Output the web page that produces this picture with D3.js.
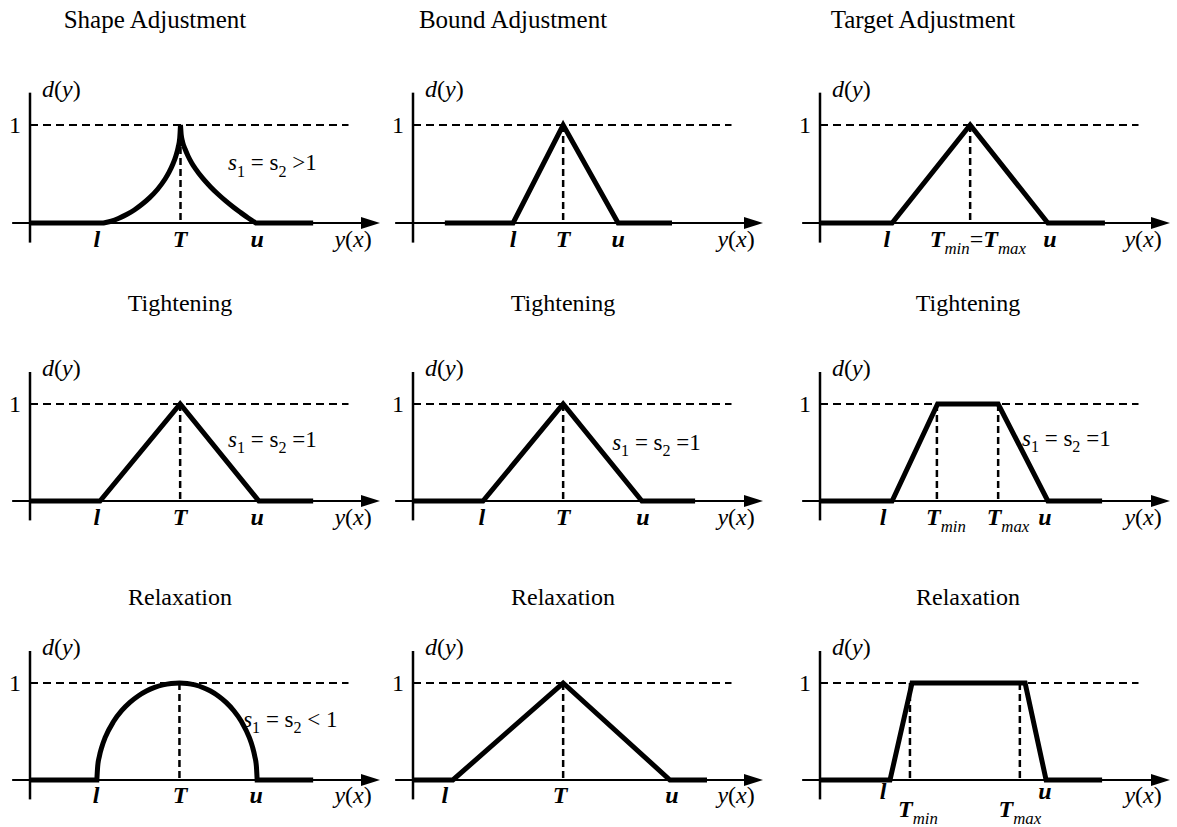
<!DOCTYPE html>
<html><head><meta charset="utf-8">
<script src="https://cdn.jsdelivr.net/npm/d3@7"></script>
<style>
body{margin:0;background:#fff}
svg{display:block}
text{font-family:"Liberation Serif","Times New Roman",serif;fill:#000}
</style>
</head><body>
<svg id="c" width="1177" height="827"></svg>
<script>
// ---------- data ----------
const colTitles = ["Shape Adjustment", "Bound Adjustment", "Target Adjustment"];
const rowTitles = ["Tightening", "Relaxation"];

// desirability curves, x in axis units (0 = d-axis, 10 = arrow tip), d in [0,1]
const p1Lines = [
  [[0,0],[2.1,0]],
  [[2.1,0],[2.32,0.018],[2.54,0.048],[2.76,0.086],[2.98,0.133],[3.2,0.191],[3.42,0.259],[3.64,0.342],[3.86,0.449],[3.97,0.516],[4.08,0.599],[4.168,0.684],[4.234,0.774],[4.278,0.867],[4.3,1]],
  [[4.3,1],[4.32,0.9],[4.36,0.827],[4.43,0.755],[4.515,0.684],[4.62,0.613],[4.73,0.553],[4.945,0.452],[5.16,0.368],[5.375,0.293],[5.59,0.225],[5.805,0.163],[6.02,0.106],[6.235,0.051],[6.45,0]],
  [[6.45,0],[8.09,0]]
];
const p2Lines = [[[0.91,0],[2.86,0],[4.29,1],[5.86,0],[7.4,0]]];
const p3Lines = [[[0,0],[2.06,0],[4.29,1],[6.51,0],[8.14,0]]];
const p4Lines = [[[0,0],[2.0,0],[4.29,1],[6.54,0],[8.09,0]]];
const p5Lines = [[[0,0],[2.0,0],[4.29,1],[6.54,0],[8.06,0]]];
const p6Lines = [[[0,0],[2.06,0],[3.36,1],[5.09,1],[6.51,0],[8.06,0]]];
const p7Lines = [
  [[0,0],[1.91,0]],
  [[1.91,0],[1.934,0.141],[1.981,0.243],[2.052,0.341],[2.146,0.436],[2.382,0.6],[2.618,0.714],[2.854,0.8],[3.09,0.866],[3.326,0.917],[3.562,0.954],[3.798,0.98],[4.034,0.995],[4.27,1],
   [4.492,0.995],[4.714,0.98],[4.936,0.954],[5.158,0.917],[5.38,0.866],[5.602,0.8],[5.824,0.714],[6.046,0.6],[6.268,0.436],[6.357,0.341],[6.423,0.243],[6.468,0.141],[6.49,0]],
  [[6.49,0],[8.09,0]]
];
const p8Lines = [[[0,0],[1.14,0],[4.29,1],[7.34,0],[8.4,0]]];
const p9Lines = [[[0,0],[2.0,0],[2.63,1],[5.86,1],[6.46,0],[8.06,0]]];
const panelLines = [p1Lines, p2Lines, p3Lines, p4Lines, p5Lines, p6Lines, p7Lines, p8Lines, p9Lines];
const panelCurved = [true, false, false, false, false, false, true, false, false];

// dashed drop lines (x positions)
const dropLines = [[4.3],[4.29],[4.29],[4.29],[4.29],[3.34,5.09],[4.27],[4.29],[2.57,5.71]];

// tick labels: [label key, x, extra dy]
const tickLabels = [
  [["l",1.91,0],["T",4.29,0],["u",6.49,0]],
  [["l",2.86,0],["T",4.29,0],["u",5.86,0]],
  [["l",1.91,0],["TminTmax",4.51,0],["u",6.57,0]],
  [["l",1.91,0],["T",4.29,0],["u",6.49,0]],
  [["l",1.97,0],["T",4.29,0],["u",6.57,0]],
  [["l",1.8,0],["Tmin",3.6,0],["Tmax",5.37,0],["u",6.43,0]],
  [["l",1.89,0],["T",4.29,0],["u",6.46,0]],
  [["l",0.91,0],["T",4.2,0],["u",7.4,0]],
  [["l",1.8,-4],["Tmin",2.8,14],["Tmax",5.71,14],["u",6.43,-4]]
];
// slope annotations: [label key, x, d]
const slopeNotes = [
  ["sGt",5.66,0.54], null, null,
  ["sEq",5.66,0.56], ["sEq",5.69,0.53], ["sEq",5.77,0.57],
  ["sLt",6.09,0.55], null, null
];

const richText = {
  l: [["l","bi"]], T: [["T","bi"]], u: [["u","bi"]],
  Tmin: [["T","bi"],["min","si"]],
  Tmax: [["T","bi"],["max","si"]],
  TminTmax: [["T","bi"],["min","si"],["=","r"],["T","bi"],["max","si"]],
  dy: [["d","i"],["(","r"],["y","i"],[")","r"]],
  yx: [["y","i"],["(","r"],["x","i"],[")","r"]],
  sGt: [["s","i"],["1","sr"],[" = s","r"],["2","sr"],[" >1","r"]],
  sEq: [["s","i"],["1","sr"],[" = s","r"],["2","sr"],[" =1","r"]],
  sLt: [["s","i"],["1","sr"],[" = s","r"],["2","sr"],[" < 1","r"]]
};

// ---------- layout ----------
const axisX = [30, 413, 820];
const baseY = [223, 501, 780];
const unitH = [98, 97, 97];
const colTitleX = [155, 513, 923];
const rowTitleX = [180, 563, 968];
const rowTitleY = [311, 605];

const svg = d3.select("#c");

function rich(g, key, x, y, size, anchor) {
  const t = g.append("text").attr("x", x).attr("y", y)
    .attr("font-size", size).attr("text-anchor", anchor || "middle");
  let shift = 0;
  richText[key].forEach(([s, k]) => {
    const sub = k[0] === "s" && k.length === 2;
    const target = sub ? size * 0.28 : 0;
    t.append("tspan")
      .attr("dy", target - shift)
      .attr("font-style", k.endsWith("i") ? "italic" : "normal")
      .attr("font-weight", k[0] === "b" ? "bold" : "normal")
      .attr("font-size", sub ? size * 0.7 : size)
      .style("white-space", "pre")
      .text(s);
    shift = target;
  });
  return t;
}

colTitles.forEach((t, i) => {
  svg.append("text").attr("x", colTitleX[i]).attr("y", 28)
    .attr("font-size", 25).attr("text-anchor", "middle").text(t);
});
rowTitles.forEach((t, r) => {
  rowTitleX.forEach(cx => {
    svg.append("text").attr("x", cx).attr("y", rowTitleY[r])
      .attr("font-size", 24).attr("text-anchor", "middle").text(t);
  });
});

for (let p = 0; p < 9; p++) {
  const row = Math.floor(p / 3), col = p % 3;
  const x = d3.scaleLinear().domain([0, 10]).range([axisX[col], axisX[col] + 350]);
  const y = d3.scaleLinear().domain([0, 1]).range([baseY[row], baseY[row] - unitH[row]]);
  const g = svg.append("g");

  // horizontal axis with arrow
  g.append("line").attr("x1", x(-0.51)).attr("x2", x(10) - 12)
    .attr("y1", y(0)).attr("y2", y(0)).attr("stroke", "#000").attr("stroke-width", 2);
  g.append("path")
    .attr("d", `M${x(10)},${y(0)} L${x(10) - 19},${y(0) - 6} L${x(10) - 19},${y(0) + 6} Z`)
    .attr("fill", "#000");
  // vertical axis
  g.append("line").attr("x1", x(0)).attr("x2", x(0))
    .attr("y1", y(1.33)).attr("y2", y(-0.2)).attr("stroke", "#000").attr("stroke-width", 2.5);

  // dashed level-1 line
  g.append("line").attr("x1", x(0)).attr("x2", x(9.1))
    .attr("y1", y(1)).attr("y2", y(1)).attr("stroke", "#000").attr("stroke-width", 2)
    .attr("stroke-dasharray", "8,5");
  // dashed drop lines
  dropLines[p].forEach(v => {
    g.append("line").attr("x1", x(v)).attr("x2", x(v))
      .attr("y1", y(1)).attr("y2", y(0)).attr("stroke", "#000").attr("stroke-width", 2.5)
      .attr("stroke-dasharray", "7,4");
  });

  // desirability function: segments joined into one continuous path
  const line = d3.line().x(d => x(d[0])).y(d => y(d[1]))
    .curve(panelCurved[p] ? d3.curveMonotoneX : d3.curveLinear);
  const dStr = panelLines[p].map((seg, i) => {
    const s = line(seg);
    return i === 0 ? s : s.replace(/^M[^CLZ]*/, "");
  }).join("");
  g.append("path").attr("d", dStr).attr("fill", "none")
    .attr("stroke", "#000").attr("stroke-width", 5)
    .attr("stroke-linejoin", "miter").attr("stroke-miterlimit", 3)
    .attr("stroke-linecap", "butt");

  // labels
  g.append("text").attr("x", x(0) - 9).attr("y", y(1) + 8)
    .attr("font-size", 24).attr("text-anchor", "end").text("1");
  rich(g, "dy", x(0) + 12, y(1) - 28, 24, "start");
  const ly = y(0) + (row === 2 ? 23 : 24);
  tickLabels[p].forEach(([k, v, dy]) => rich(g, k, x(v), ly + dy, 24, "middle"));
  rich(g, "yx", x(9.23), ly, 24, "middle");
  if (slopeNotes[p]) {
    const [k, v, d] = slopeNotes[p];
    rich(g, k, x(v), y(d), 23, "start");
  }
}
</script>
</body></html>
